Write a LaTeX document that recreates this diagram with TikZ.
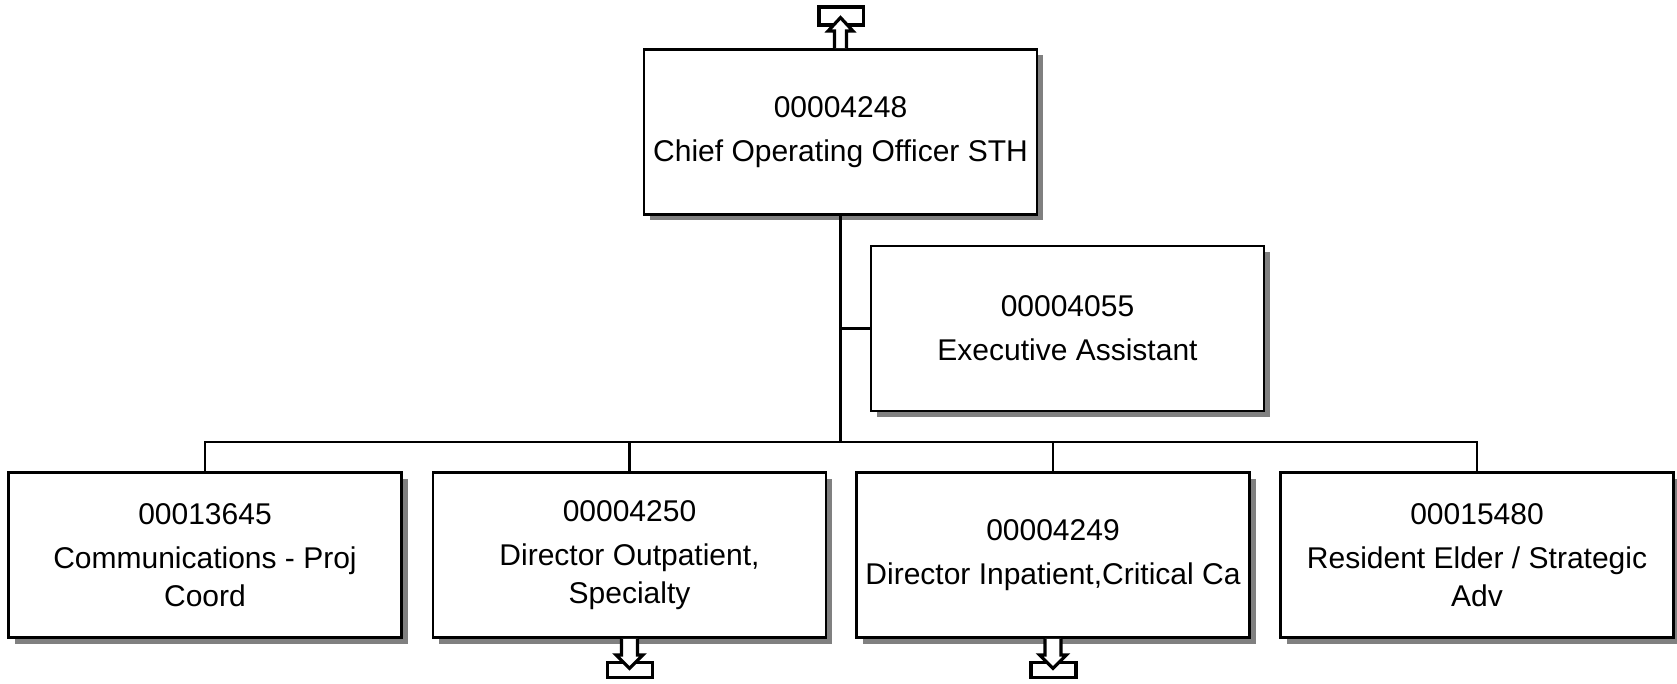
\documentclass[tikz,border=0pt]{standalone}
\usepackage{fontspec}
\setmainfont{Liberation Sans}
\usetikzlibrary{shadows}
\tikzset{
  posbox/.style={draw=black, line width=2.8pt, fill=white,
    minimum width=393pt, minimum height=165pt, inner sep=0pt,
    align=center, font=\fontsize{30}{38}\selectfont,
    drop shadow={shadow xshift=6pt, shadow yshift=-6pt, fill=black!50, opacity=1}},
  link/.style={draw=black, line width=2.2pt},
  iconline/.style={draw=black, line width=3.2pt, fill=white, line join=miter},
  upicon/.pic={
    \draw[iconline] (-21.5,-41) rectangle (23,-23);
    \draw[iconline] (-6,0) -- (-6,-17) -- (-12.5,-17) -- (0,-30.5) -- (12.5,-17) -- (6,-17) -- (6,0);
  },
  downicon/.pic={
    \draw[iconline] (-22,23.5) rectangle (23,38.5);
    \draw[iconline] (-8,0) -- (-8,16) -- (-13.5,16) -- (0,29.5) -- (13.5,16) -- (8,16) -- (8,0);
  }
}
\begin{document}
\begin{tikzpicture}[x=1pt, y=-1pt]
\useasboundingbox (0,0) rectangle (1677,684);

\node[posbox] (top)  at (840.5,132)  {00004248\\[6pt]Chief Operating Officer STH};
\node[posbox] (asst) at (1067.5,328.5) {00004055\\[6pt]Executive Assistant};
\node[posbox] (b1)   at (205,555)    {00013645\\[6pt]Communications - Proj\\Coord};
\node[posbox] (b2)   at (629.5,555)  {00004250\\[6pt]Director Outpatient,\\Specialty};
\node[posbox] (b3)   at (1053,555)   {00004249\\[6pt]Director Inpatient,Critical Ca};
\node[posbox] (b4)   at (1477,555)   {00015480\\[6pt]Resident Elder / Strategic\\Adv};

\coordinate (bus) at (0,442);

\draw[link] (top.south) -- (top.south |- bus);
\draw[link] (asst.west) -- (asst.west -| top.south);
\draw[link] (b1.north) |- (b4.north |- bus) -- (b4.north);
\draw[link] (b2.north) -- (b2.north |- bus);
\draw[link] (b3.north) -- (b3.north |- bus);

\pic at (top.north) {upicon};
\pic at (b2.south) {downicon};
\pic at (b3.south) {downicon};
\end{tikzpicture}
\end{document}
